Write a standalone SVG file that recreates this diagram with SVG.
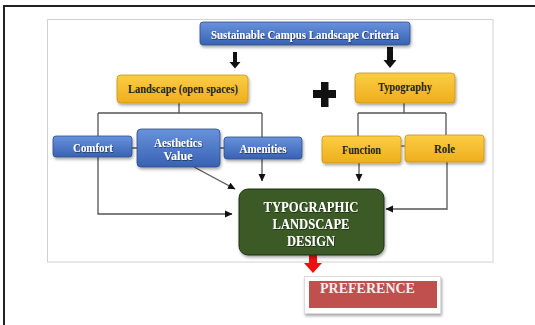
<svg xmlns="http://www.w3.org/2000/svg" width="535" height="325" viewBox="0 0 535 325">
<defs>
<linearGradient id="gBlue" x1="0" y1="0" x2="0" y2="1"><stop offset="0" stop-color="#6892dc"/><stop offset="1" stop-color="#3862b2"/></linearGradient>
<linearGradient id="gYel" x1="0" y1="0" x2="0" y2="1"><stop offset="0" stop-color="#fccd45"/><stop offset="1" stop-color="#eeae1c"/></linearGradient>
<filter id="sh" x="-10%" y="-20%" width="125%" height="150%"><feDropShadow dx="1" dy="2" stdDeviation="1.4" flood-color="#000" flood-opacity="0.35"/></filter>
<filter id="tsh" x="-5%" y="-20%" width="110%" height="150%"><feDropShadow dx="0.6" dy="0.8" stdDeviation="0.5" flood-color="#000" flood-opacity="0.6"/></filter>
<marker id="ah" markerWidth="8" markerHeight="8" refX="7" refY="4" orient="auto" markerUnits="userSpaceOnUse"><path d="M0,0.5 L7.5,4 L0,7.5 Z" fill="#111"/></marker>
<style>
.blue{fill:url(#gBlue);stroke:#2f4f8a;stroke-width:0.8;filter:url(#sh)}
.yel{fill:url(#gYel);stroke:#c8951a;stroke-width:0.8;filter:url(#sh)}
.tw{font-family:"Liberation Serif","Times New Roman",serif;font-weight:bold;fill:#fff;text-anchor:middle;filter:url(#tsh)}
.td{font-family:"Liberation Serif","Times New Roman",serif;font-weight:bold;fill:#222;text-anchor:middle}
.ln{fill:none;stroke:#555;stroke-width:1.3}
.ar{marker-end:url(#ah)}
</style>
</defs>
<rect width="535" height="325" fill="#fff"/>
<path d="M4,325 V6 H535" fill="none" stroke="#222" stroke-width="2"/>
<rect x="47.5" y="19.5" width="445.5" height="242.5" fill="#fff" stroke="#d2d2d2" stroke-width="1"/>

<g id="connectors">
<path class="ln" d="M179,103 V113 M98,113 H262 M98,113 V136 M262,113 V138"/>
<path class="ln ar" d="M98,157 V214 H232"/>
<path class="ln ar" d="M194,167 L235,189"/>
<path class="ln ar" d="M262,159 V181"/>
<path class="ln" d="M132,148 H137 M220,148 H224"/>
<path class="ln" d="M404,103 V113 M358,113 H446 M358,113 V136 M446,113 V135"/>
<path class="ln ar" d="M359,163 V181"/>
<path class="ln ar" d="M447,162 V209 H386"/>
<path class="ln" d="M401,146 H405"/>
<path d="M233,52 H237 V62 H240.5 L235,68.5 L229.5,62 H233 Z" fill="#111"/>
<path d="M387,47 H393 V60 H396.5 L390,68 L383.5,60 H387 Z" fill="#111"/>
<path d="M309,254 H317 V263 H322 L313,273 L304,263 H309 Z" fill="#f01010"/>
</g>

<g id="criteria">
<rect class="blue" x="200" y="22" width="210" height="23" rx="3"/>
<text class="tw" x="305" y="39" font-size="12" textLength="188" lengthAdjust="spacingAndGlyphs">Sustainable Campus Landscape Criteria</text>
</g>
<g id="landscape">
<rect class="yel" x="117" y="75" width="131" height="28" rx="4"/>
<text class="td" x="183" y="93" font-size="12" textLength="110" lengthAdjust="spacingAndGlyphs">Landscape (open spaces)</text>
</g>
<g id="plus">
<path d="M321,82 H328.5 V90 H336 V98 H328.5 V107 H321 V98 H313 V90 H321 Z" fill="#111"/>
</g>
<g id="typography">
<rect class="yel" x="355" y="73" width="100" height="30" rx="4"/>
<text class="td" x="405" y="91" font-size="12" textLength="54" lengthAdjust="spacingAndGlyphs">Typography</text>
</g>
<g id="comfort">
<rect class="blue" x="53" y="136" width="79" height="21" rx="3"/>
<text class="tw" x="93" y="152" font-size="12" textLength="40" lengthAdjust="spacingAndGlyphs">Comfort</text>
</g>
<g id="aesthetics">
<rect class="blue" x="137" y="129" width="83" height="38" rx="4"/>
<text class="tw" x="178" y="147" font-size="12" textLength="48" lengthAdjust="spacingAndGlyphs">Aesthetics</text>
<text class="tw" x="178" y="160" font-size="12" textLength="29" lengthAdjust="spacingAndGlyphs">Value</text>
</g>
<g id="amenities">
<rect class="blue" x="224" y="137" width="78" height="22" rx="3"/>
<text class="tw" x="263" y="153" font-size="12" textLength="47" lengthAdjust="spacingAndGlyphs">Amenities</text>
</g>
<g id="function">
<rect class="yel" x="322" y="136" width="79" height="27" rx="3"/>
<text class="td" x="361.5" y="153.5" font-size="12" textLength="39" lengthAdjust="spacingAndGlyphs">Function</text>
</g>
<g id="role">
<rect class="yel" x="405" y="135" width="79" height="27" rx="3"/>
<text class="td" x="444.5" y="152.5" font-size="12" textLength="21" lengthAdjust="spacingAndGlyphs">Role</text>
</g>
<g id="design">
<rect x="239" y="189" width="145" height="66" rx="9" fill="#3b5a28" stroke="#1f3114" stroke-width="1" filter="url(#sh)"/>
<text class="tw" x="311" y="211.5" font-size="14" textLength="95" lengthAdjust="spacingAndGlyphs">TYPOGRAPHIC</text>
<text class="tw" x="311" y="228.5" font-size="14" textLength="77" lengthAdjust="spacingAndGlyphs">LANDSCAPE</text>
<text class="tw" x="311" y="245.5" font-size="14" textLength="48" lengthAdjust="spacingAndGlyphs">DESIGN</text>
</g>
<g id="preference">
<rect x="304.5" y="276.5" width="136" height="37" fill="#fff" stroke="#dcdcdc" stroke-width="1" filter="url(#sh)"/>
<rect x="309" y="281" width="128" height="27" fill="#c0504d"/>
<text x="367.5" y="292.5" font-size="14" font-family="'Liberation Serif','Times New Roman',serif" font-weight="bold" fill="#f8ecec" text-anchor="middle">PREFERENCE</text>
</g>
</svg>
